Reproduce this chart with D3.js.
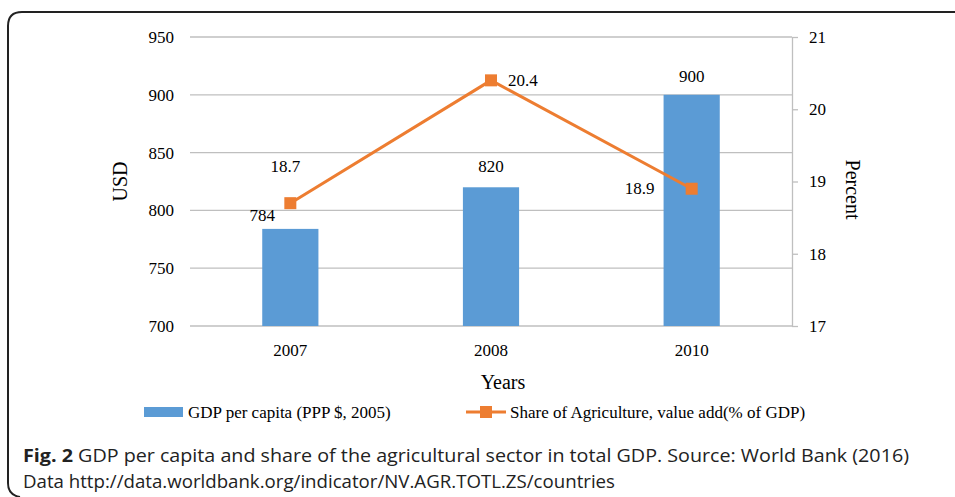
<!DOCTYPE html>
<html>
<head>
<meta charset="utf-8">
<script src="https://cdn.jsdelivr.net/npm/d3@7"></script>
<style>
  body { margin: 0; background: #fff; }
  .lbl { font-family: "Liberation Serif", serif; font-size: 17px; fill: #000; }
  .cap { font-family: "Open Sans", sans-serif; font-size: 18px; fill: #222; }
</style>
</head>
<body>
<div id="chart"></div>
<script>
const years = ["2007", "2008", "2010"];
const gdp = [784, 820, 900];
const agri = [18.7, 20.4, 18.9];
const gdpTicks = [700, 750, 800, 850, 900, 950];
const pctTicks = [17, 18, 19, 20, 21];

const W = 955, H = 497;
const pLeft = 190, pRight = 792, pTop = 37, pBottom = 326;

const svg = d3.select("#chart").append("svg")
    .attr("width", W)
    .attr("height", H);

// frame with rounded left corners
svg.append("path")
    .attr("d", `M960,12 H22 Q8,12 8,26 V483 Q8,495 20,497`)
    .attr("fill", "none")
    .attr("stroke", "#222")
    .attr("stroke-width", 2);

const x = d3.scaleBand().domain(years).range([pLeft, pRight]).paddingInner(0).paddingOuter(0);
const y = d3.scaleLinear().domain([700, 950]).range([pBottom, pTop]);
const y2 = d3.scaleLinear().domain([17, 21]).range([pBottom, pTop]);

// gridlines
svg.append("g")
    .selectAll("line")
    .data(gdpTicks)
    .join("line")
    .attr("x1", pLeft).attr("x2", pRight)
    .attr("y1", d => y(d)).attr("y2", d => y(d))
    .attr("stroke", "#bfbfbf")
    .attr("stroke-width", 1.3);

function styleTicks(g) {
    g.attr("font-family", null).attr("font-size", null);
    g.selectAll(".tick text")
        .attr("class", "lbl")
        .attr("fill", "#000");
}

// left axis labels
const yAxis = svg.append("g")
    .attr("transform", `translate(${pLeft},0)`)
    .call(d3.axisLeft(y).tickValues(gdpTicks).tickSize(0).tickPadding(16))
    .call(styleTicks);
yAxis.select(".domain").remove();

// right axis
const y2Axis = svg.append("g")
    .attr("transform", `translate(${pRight},0)`)
    .call(d3.axisRight(y2).tickValues(pctTicks).tickFormat(d3.format("d"))
        .tickSize(6).tickPadding(11).tickSizeOuter(0))
    .call(styleTicks);
y2Axis.select(".domain").attr("stroke", "#bfbfbf").attr("stroke-width", 1.3);
y2Axis.selectAll(".tick line").attr("stroke", "#bfbfbf").attr("stroke-width", 1.3);

// x axis labels
const xAxis = svg.append("g")
    .attr("transform", `translate(0,${pBottom})`)
    .call(d3.axisBottom(x).tickSize(0).tickPadding(18))
    .call(styleTicks);
xAxis.select(".domain").remove();

// bars
const bw = x.bandwidth() * 0.28;
svg.append("g")
    .selectAll("rect")
    .data(gdp)
    .join("rect")
    .attr("x", (d, i) => x(years[i]) + x.bandwidth() / 2 - bw / 2)
    .attr("y", d => y(d))
    .attr("width", bw)
    .attr("height", d => y(700) - y(d))
    .attr("fill", "#5b9bd5");

// line
const line = d3.line()
    .x((d, i) => x(years[i]) + x.bandwidth() / 2)
    .y(d => y2(d));
svg.append("path")
    .datum(agri)
    .attr("d", line)
    .attr("fill", "none")
    .attr("stroke", "#ed7d31")
    .attr("stroke-width", 3);
svg.append("g")
    .selectAll("rect")
    .data(agri)
    .join("rect")
    .attr("x", (d, i) => x(years[i]) + x.bandwidth() / 2 - 6)
    .attr("y", d => y2(d) - 6)
    .attr("width", 12)
    .attr("height", 12)
    .attr("fill", "#ed7d31");

// data labels
const cx = i => x(years[i]) + x.bandwidth() / 2;
svg.append("text").attr("class", "lbl").attr("text-anchor", "middle")
    .attr("x", cx(0) - 28).attr("y", y(gdp[0]) - 8).text(gdp[0]);
svg.append("text").attr("class", "lbl").attr("text-anchor", "middle")
    .attr("x", cx(1)).attr("y", y(gdp[1]) - 15).text(gdp[1]);
svg.append("text").attr("class", "lbl").attr("text-anchor", "middle")
    .attr("x", cx(2)).attr("y", y(gdp[2]) - 13).text(gdp[2]);
svg.append("text").attr("class", "lbl").attr("text-anchor", "middle")
    .attr("x", cx(0) - 5).attr("y", y2(agri[0]) - 31).text(agri[0].toFixed(1));
svg.append("text").attr("class", "lbl").attr("text-anchor", "start")
    .attr("x", cx(1) + 17).attr("y", y2(agri[1]) + 6).text(agri[1].toFixed(1));
svg.append("text").attr("class", "lbl").attr("text-anchor", "middle")
    .attr("x", cx(2) - 52).attr("y", y2(agri[2]) + 5).text(agri[2].toFixed(1));

// axis titles
svg.append("text").attr("class", "lbl")
    .attr("transform", `translate(127,${(pTop + pBottom) / 2}) rotate(-90)`)
    .attr("text-anchor", "middle")
    .style("font-size", "20px")
    .text("USD");
svg.append("text").attr("class", "lbl")
    .attr("transform", `translate(846,${(pTop + pBottom) / 2 + 8}) rotate(90)`)
    .attr("text-anchor", "middle")
    .style("font-size", "20px")
    .text("Percent");
svg.append("text").attr("class", "lbl")
    .attr("x", (pLeft + pRight) / 2 + 12).attr("y", 389)
    .attr("text-anchor", "middle")
    .style("font-size", "20px")
    .text("Years");

// legend
svg.append("rect").attr("x", 144).attr("y", 407).attr("width", 39).attr("height", 10).attr("fill", "#5b9bd5");
svg.append("text").attr("class", "lbl").attr("x", 188).attr("y", 418).text("GDP per capita (PPP $, 2005)");
svg.append("line").attr("x1", 466).attr("x2", 506).attr("y1", 412).attr("y2", 412)
    .attr("stroke", "#ed7d31").attr("stroke-width", 3);
svg.append("rect").attr("x", 480).attr("y", 406).attr("width", 12).attr("height", 12).attr("fill", "#ed7d31");
svg.append("text").attr("class", "lbl").attr("x", 510).attr("y", 418).text("Share of Agriculture, value add(% of GDP)");

// caption
const cap1 = svg.append("text").attr("class", "cap").attr("x", 23).attr("y", 462)
    .attr("textLength", 886).attr("lengthAdjust", "spacingAndGlyphs");
cap1.append("tspan").style("font-weight", "bold").text("Fig. 2");
cap1.append("tspan").text(" GDP per capita and share of the agricultural sector in total GDP. Source: World Bank (2016)");
svg.append("text").attr("class", "cap").attr("x", 23).attr("y", 488)
    .attr("textLength", 592).attr("lengthAdjust", "spacingAndGlyphs")
    .text("Data http://data.worldbank.org/indicator/NV.AGR.TOTL.ZS/countries");
</script>
</body>
</html>
